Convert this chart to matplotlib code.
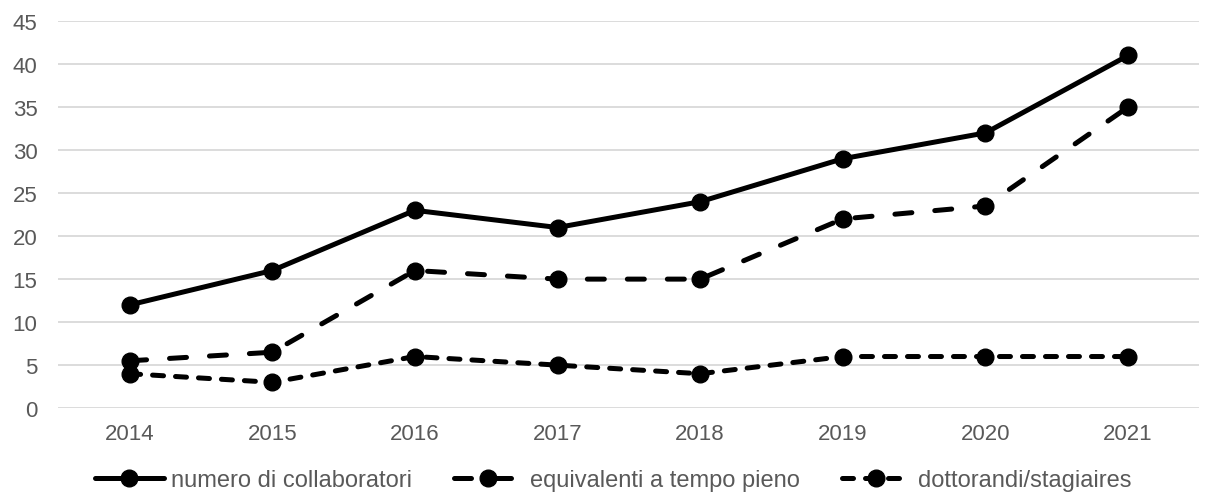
import matplotlib
matplotlib.use("Agg")
import matplotlib.pyplot as plt

years = ["2014", "2015", "2016", "2017", "2018", "2019", "2020", "2021"]
collaboratori = [12, 16, 23, 21, 24, 29, 32, 41]
equivalenti = [5.5, 6.5, 16, 15, 15, 22, 23.5, 35]
dottorandi = [4, 3, 6, 5, 4, 6, 6, 6]
series_labels = ["numero di collaboratori", "equivalenti a tempo pieno", "dottorandi/stagiaires"]
y_ticks = list(range(0, 50, 5))

plt.rcParams["font.family"] = ["Liberation Sans", "DejaVu Sans"]
text_color = "#595959"
grid_color = "#d9d9d9"

fig = plt.figure(figsize=(12.14, 5.02), dpi=100)
ax = fig.add_axes([0.048, 0.185, 0.94, 0.771])

x = list(range(len(years)))
common = dict(color="black", linewidth=3.6, marker="o", markersize=12,
              dash_capstyle="round", solid_capstyle="round")
ax.plot(x, collaboratori, linestyle="-", label=series_labels[0], **common)
ax.plot(x, equivalenti, linestyle=(0, (3.4, 4.6)), label=series_labels[1], **common)
ax.plot(x, dottorandi, linestyle=(0, (2.2, 2.4)), label=series_labels[2], **common)

ax.set_xlim(-0.5, len(years) - 0.5)
ax.set_ylim(0, 45)
ax.set_xticks(x)
ax.set_xticklabels(years)
ax.set_yticks(y_ticks)
ax.yaxis.grid(True, color=grid_color, linewidth=1.3)
ax.set_axisbelow(True)
for s in ax.spines.values():
    s.set_visible(False)
ax.tick_params(axis="both", length=0, labelsize=16, colors=text_color)
ax.tick_params(axis="x", pad=11)
ax.tick_params(axis="y", pad=15)

leg = fig.legend(loc="lower center", bbox_to_anchor=(0.505, -0.022), ncol=3,
                 frameon=False, fontsize=17, handlelength=2.9, handletextpad=0.3,
                 columnspacing=1.8)
for t in leg.get_texts():
    t.set_color(text_color)

fig.savefig("out.png", dpi=100)
